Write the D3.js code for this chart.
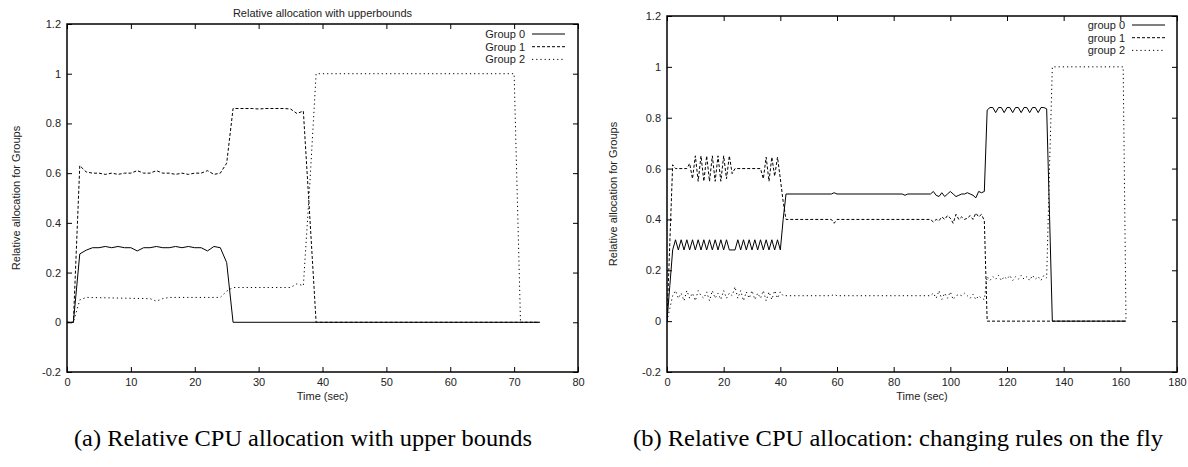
<!DOCTYPE html>
<html><head><meta charset="utf-8">
<script src="https://cdn.jsdelivr.net/npm/d3@7"></script>
<style>body{margin:0;background:#fff}svg{display:block}</style>
</head><body><svg id="c" width="1188" height="467"></svg>
<script>
// ---------- DATA ----------
const titleA = "Relative allocation with upperbounds";
const yTicks = [-0.2, 0, 0.2, 0.4, 0.6, 0.8, 1, 1.2];
const yTickLabels = ["-0.2", "0", "0.2", "0.4", "0.6", "0.8", "1", "1.2"];
const xTicksA = [0, 10, 20, 30, 40, 50, 60, 70, 80];
const xTicksB = [0, 20, 40, 60, 80, 100, 120, 140, 160, 180];
const legendA = ["Group 0", "Group 1", "Group 2"];
const legendB = ["group 0", "group 1", "group 2"];
const captionA = "(a) Relative CPU allocation with upper bounds";
const captionB = "(b) Relative CPU allocation: changing rules on the fly";

// [time (sec), relative allocation]
const g0a = [[0,0],[1,0],[2,.275],[3,.29],[4,.30],[5,.30],[6,.305],[7,.30],[8,.305],[9,.30],[10,.30],[11,.287],[12,.30],[13,.30],[14,.305],[15,.30],[16,.30],[17,.305],[18,.30],[19,.305],[20,.30],[21,.30],[22,.287],[23,.305],[24,.30],[25,.24],[26,0],[74,0]];
const g1a = [[0,0],[1,0],[2,.63],[3,.605],[4,.60],[5,.60],[6,.595],[7,.60],[8,.595],[9,.60],[10,.60],[11,.61],[12,.60],[13,.60],[14,.61],[15,.60],[16,.60],[17,.595],[18,.60],[19,.595],[20,.60],[21,.60],[22,.61],[23,.595],[24,.60],[25,.64],[26,.86],[29,.86],[30,.858],[31,.86],[34,.86],[35,.858],[36,.84],[37,.85],[38,.43],[39,0],[74,0]];
const g2a = [[0,0],[1,0],[2,.09],[3,.10],[13,.095],[14,.085],[15,.095],[16,.10],[24,.10],[25,.125],[26,.14],[35,.14],[36,.155],[37,.147],[38,.55],[39,1],[70,1],[71,0],[74,0]];

const g0b = [[0,0],[1,.14],[2,.28],[3,.32],[4,.28],[5,.32],[6,.28],[7,.32],[8,.28],[9,.32],[10,.28],[11,.32],[12,.28],[13,.32],[14,.28],[15,.32],[16,.28],[17,.32],[18,.28],[19,.32],[20,.28],[21,.32],[22,.28],[23,.28],[24,.28],[25,.32],[26,.28],[27,.32],[28,.28],[29,.32],[30,.28],[31,.32],[32,.28],[33,.32],[34,.28],[35,.32],[36,.28],[37,.32],[38,.28],[39,.32],[40,.28],[41,.40],[42,.50],[58,.50],[59,.505],[60,.50],[83,.50],[84,.495],[85,.50],[93,.50],[94,.51],[95,.495],[96,.49],[97,.505],[98,.49],[99,.50],[100,.51],[101,.50],[102,.49],[103,.495],[104,.50],[105,.50],[106,.505],[107,.50],[108,.495],[109,.485],[110,.51],[111,.505],[112,.51],[113,.83],[114,.84],[115,.84],[116,.82],[117,.84],[118,.84],[119,.82],[120,.84],[121,.84],[122,.82],[123,.84],[124,.84],[125,.82],[126,.84],[127,.84],[128,.82],[129,.84],[130,.84],[131,.82],[132,.84],[133,.84],[134,.835],[135,.42],[136,0],[162,0]];
const g1b = [[0,0],[1,.31],[2,.615],[3,.60],[7,.60],[8,.62],[9,.56],[10,.65],[11,.55],[12,.65],[13,.55],[14,.65],[15,.55],[16,.65],[17,.55],[18,.65],[19,.55],[20,.65],[21,.56],[22,.65],[23,.58],[24,.60],[33,.60],[34,.56],[35,.645],[36,.55],[37,.645],[38,.57],[39,.645],[40,.56],[41,.47],[42,.40],[58,.40],[59,.385],[60,.40],[93,.40],[94,.39],[95,.40],[96,.395],[97,.41],[98,.40],[99,.415],[100,.405],[101,.385],[102,.42],[103,.40],[104,.41],[105,.40],[106,.405],[107,.415],[108,.40],[109,.425],[110,.41],[111,.42],[112,.395],[113,0],[162,0]];
const g2b = [[0,0],[1,.05],[2,.10],[3,.12],[4,.09],[5,.11],[6,.08],[7,.12],[8,.09],[9,.11],[10,.08],[11,.12],[12,.10],[13,.09],[14,.115],[15,.08],[16,.12],[17,.09],[18,.11],[19,.085],[20,.12],[21,.09],[22,.11],[23,.10],[24,.135],[25,.09],[26,.12],[27,.08],[28,.115],[29,.09],[30,.12],[31,.085],[32,.11],[33,.09],[34,.12],[35,.08],[36,.115],[37,.085],[38,.12],[39,.09],[40,.115],[41,.10],[58,.10],[59,.105],[60,.10],[93,.10],[94,.11],[95,.09],[96,.12],[97,.085],[98,.11],[99,.09],[100,.115],[101,.085],[102,.10],[103,.105],[104,.10],[105,.11],[106,.10],[107,.09],[108,.105],[109,.085],[110,.10],[111,.09],[112,.085],[113,.175],[114,.16],[115,.175],[116,.165],[117,.18],[118,.16],[119,.175],[120,.165],[121,.18],[122,.16],[123,.175],[124,.165],[125,.18],[126,.165],[127,.175],[128,.16],[129,.18],[130,.165],[131,.175],[132,.16],[133,.18],[134,.17],[135,.6],[136,1],[161,1],[162,0]];

// ---------- DRAW ----------
const svg = d3.select("#c");
const FONT = "'Liberation Sans', Arial, Helvetica, sans-serif";
const dashes = [null, "3,2", "1.2,3"];

function panel(o) {
  const x = d3.scaleLinear().domain([0, o.xmax]).range([o.x0, o.x1]);
  const y = d3.scaleLinear().domain([-0.2, 1.2]).range([o.y1, o.y0]);
  const g = svg.append("g");
  const clipId = "clip" + o.id;
  svg.append("clipPath").attr("id", clipId).append("rect")
    .attr("x", o.x0).attr("y", o.y0).attr("width", o.x1 - o.x0).attr("height", o.y1 - o.y0);

  const ax = (gen, tr) => g.append("g").attr("transform", tr).call(gen)
    .call(s => s.select(".domain").remove())
    .call(s => s.selectAll("text").attr("font-family", FONT).attr("font-size", 11).attr("fill", "#222"))
    .call(s => s.selectAll("line").attr("stroke", "#000"));
  ax(d3.axisBottom(x).tickValues(o.xticks).tickSize(-5).tickPadding(6).tickFormat(d3.format("d")), `translate(0,${o.y1})`);
  ax(d3.axisTop(x).tickValues(o.xticks).tickSize(-5).tickFormat(""), `translate(0,${o.y0})`);
  ax(d3.axisLeft(y).tickValues(yTicks).tickSize(-5).tickPadding(6).tickFormat((d, i) => yTickLabels[i]), `translate(${o.x0},0)`);
  ax(d3.axisRight(y).tickValues(yTicks).tickSize(-5).tickFormat(""), `translate(${o.x1},0)`);

  g.append("rect").attr("x", o.x0).attr("y", o.y0).attr("width", o.x1 - o.x0).attr("height", o.y1 - o.y0)
    .attr("fill", "none").attr("stroke", "#000").attr("stroke-width", 1.5);

  const line = d3.line().x(d => x(d[0])).y(d => y(d[1]));
  o.series.forEach((s, i) => {
    g.append("path").attr("d", line(s)).attr("fill", "none").attr("stroke", "#000")
      .attr("stroke-width", 1).attr("stroke-dasharray", dashes[i]).attr("clip-path", `url(#${clipId})`);
  });

  o.legend.forEach((name, i) => {
    const ly = o.legY + i * 12.7;
    g.append("text").attr("x", o.legX).attr("y", ly).attr("dy", "0.35em").attr("text-anchor", "end")
      .attr("font-family", FONT).attr("font-size", 11).attr("fill", "#222").text(name);
    g.append("line").attr("x1", o.legX + 7).attr("x2", o.legX + 40).attr("y1", ly).attr("y2", ly)
      .attr("stroke", "#000").attr("stroke-width", 1).attr("stroke-dasharray", dashes[i]);
  });

  g.append("text").attr("x", (o.x0 + o.x1) / 2).attr("y", o.y1 + 28).attr("text-anchor", "middle")
    .attr("font-family", FONT).attr("font-size", 11).attr("fill", "#222").text("Time (sec)");
  g.append("text").attr("transform", `translate(${o.ylabX},${(o.y0 + o.y1) / 2}) rotate(-90)`)
    .attr("text-anchor", "middle").attr("dy", "0.35em")
    .attr("font-family", FONT).attr("font-size", 11).attr("fill", "#222").text("Relative allocation for Groups");
  if (o.title) {
    g.append("text").attr("x", (o.x0 + o.x1) / 2).attr("y", 13).attr("dy", "0.35em").attr("text-anchor", "middle")
      .attr("font-family", FONT).attr("font-size", 11).attr("fill", "#222").text(o.title);
  }
  svg.append("text").attr("x", o.capX).attr("y", 446).attr("text-anchor", "middle")
    .attr("font-family", "'Liberation Serif', 'DejaVu Serif', serif").attr("font-size", 23).attr("fill", "#000")
    .attr("textLength", o.capW).attr("lengthAdjust", "spacingAndGlyphs").text(o.caption);
}

panel({id: "a", x0: 67, x1: 578, y0: 24, y1: 372, xmax: 80, xticks: xTicksA,
  series: [g0a, g1a, g2a], legend: legendA, legX: 525, legY: 34, ylabX: 16, title: titleA,
  caption: captionA, capX: 303, capW: 458});
panel({id: "b", x0: 667, x1: 1177, y0: 16, y1: 372, xmax: 180, xticks: xTicksB,
  series: [g0b, g1b, g2b], legend: legendB, legX: 1125, legY: 25, ylabX: 613, title: null,
  caption: captionB, capX: 898, capW: 530});
</script></body></html>
